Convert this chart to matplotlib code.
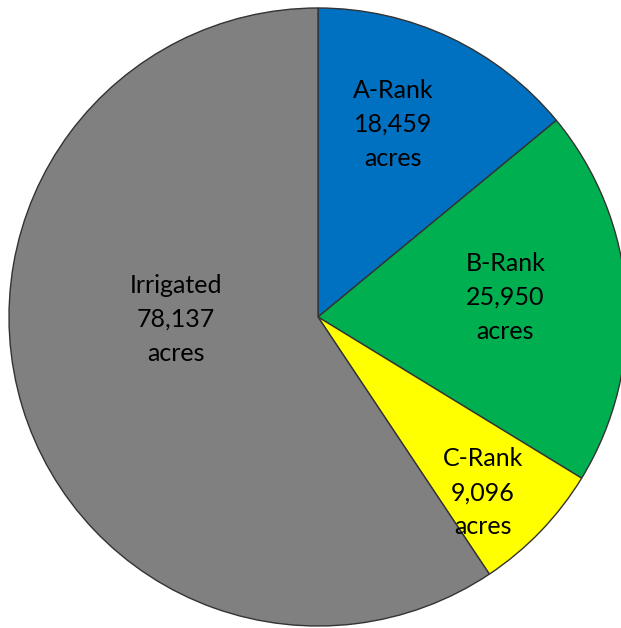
import numpy as np
import matplotlib
matplotlib.use('Agg')
import matplotlib.pyplot as plt

# Acreage by category
categories = ['A-Rank', 'B-Rank', 'C-Rank', 'Irrigated']
acres = [18459, 25950, 9096, 78137]
colors = ['#0070C0', '#00B050', '#FFFF00', '#808080']

# label placement: radius (fraction of pie radius) and angle tweak (degrees, clockwise)
label_radius = [0.67, 0.61, 0.78, 0.46]
label_shift = [-4, -2, 3, 16]

plt.rcParams['font.family'] = ['Lato', 'DejaVu Sans']

W, H = 621, 628
fig = plt.figure(figsize=(W / 100, H / 100), dpi=100)
ax = fig.add_axes([0, 0, 1, 1])

R = 309.0
cx, cy = 318.0, 317.0

wedges, _ = ax.pie(acres, colors=colors, startangle=90, counterclock=False,
                   wedgeprops=dict(edgecolor='#333333', linewidth=1.0))
ax.set_xlim(-cx / R, (W - cx) / R)
ax.set_ylim(-(H - cy) / R, cy / R)
ax.set_aspect('auto')
ax.axis('off')

for w, name, val, r, sh in zip(wedges, categories, acres, label_radius, label_shift):
    mid = np.deg2rad((w.theta1 + w.theta2) / 2 - sh)
    x, y = r * np.cos(mid), r * np.sin(mid)
    ax.text(x, y, f'{name}\n{val:,}\nacres', ha='center', va='center',
            fontsize=18, color='black', linespacing=1.58)

fig.savefig('out.png', dpi=100)
